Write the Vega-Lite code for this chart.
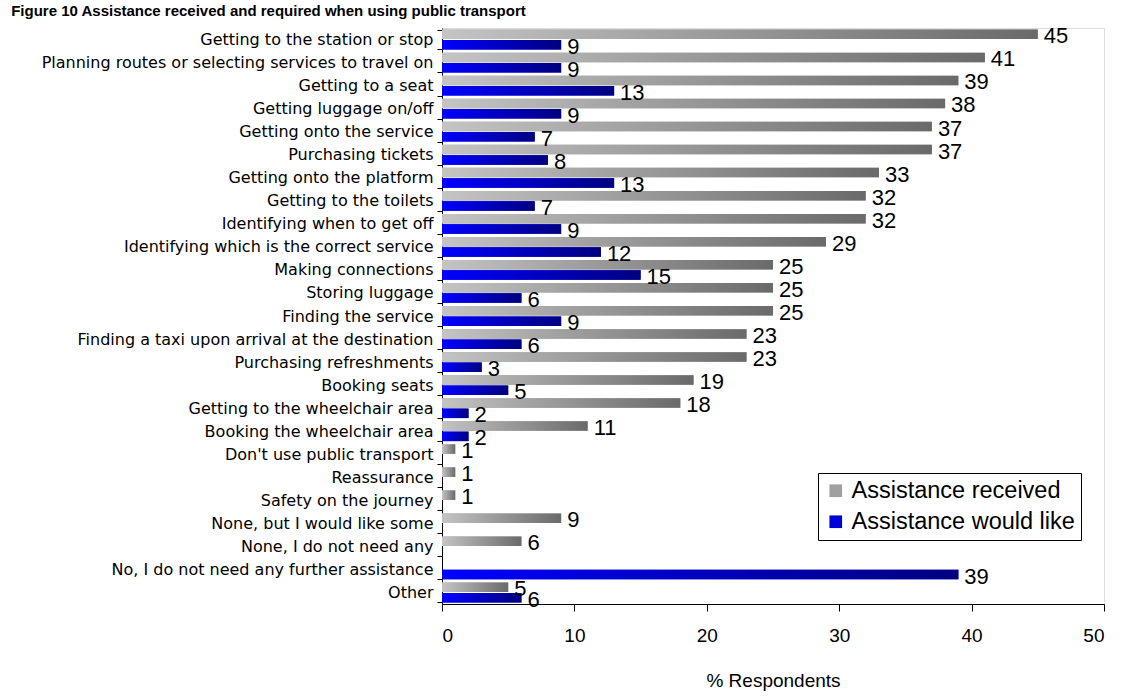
{
  "$schema": "https://vega.github.io/schema/vega-lite/v6.json",
  "width": 662,
  "height": 576,
  "autosize": {"type": "none"},
  "padding": {"left": 442, "top": 28, "right": 35, "bottom": 96},
  "background": "white",
  "title": {
    "text": "Figure 10 Assistance received and required when using public transport",
    "anchor": "start",
    "frame": "bounds",
    "font": "Liberation Sans",
    "fontSize": 15,
    "fontWeight": "bold",
    "color": "black",
    "offset": 1,
    "dx": -30
  },
  "data": {
    "values": [
      {"cat": "Getting to the station or stop", "series": "Assistance received", "value": 45},
      {"cat": "Getting to the station or stop", "series": "Assistance would like", "value": 9},
      {"cat": "Planning routes or selecting services to travel on", "series": "Assistance received", "value": 41},
      {"cat": "Planning routes or selecting services to travel on", "series": "Assistance would like", "value": 9},
      {"cat": "Getting to a seat", "series": "Assistance received", "value": 39},
      {"cat": "Getting to a seat", "series": "Assistance would like", "value": 13},
      {"cat": "Getting luggage on/off", "series": "Assistance received", "value": 38},
      {"cat": "Getting luggage on/off", "series": "Assistance would like", "value": 9},
      {"cat": "Getting onto the service", "series": "Assistance received", "value": 37},
      {"cat": "Getting onto the service", "series": "Assistance would like", "value": 7},
      {"cat": "Purchasing tickets", "series": "Assistance received", "value": 37},
      {"cat": "Purchasing tickets", "series": "Assistance would like", "value": 8},
      {"cat": "Getting onto the platform", "series": "Assistance received", "value": 33},
      {"cat": "Getting onto the platform", "series": "Assistance would like", "value": 13},
      {"cat": "Getting to the toilets", "series": "Assistance received", "value": 32},
      {"cat": "Getting to the toilets", "series": "Assistance would like", "value": 7},
      {"cat": "Identifying when to get off", "series": "Assistance received", "value": 32},
      {"cat": "Identifying when to get off", "series": "Assistance would like", "value": 9},
      {"cat": "Identifying which is the correct service", "series": "Assistance received", "value": 29},
      {"cat": "Identifying which is the correct service", "series": "Assistance would like", "value": 12},
      {"cat": "Making connections", "series": "Assistance received", "value": 25},
      {"cat": "Making connections", "series": "Assistance would like", "value": 15},
      {"cat": "Storing luggage", "series": "Assistance received", "value": 25},
      {"cat": "Storing luggage", "series": "Assistance would like", "value": 6},
      {"cat": "Finding the service", "series": "Assistance received", "value": 25},
      {"cat": "Finding the service", "series": "Assistance would like", "value": 9},
      {"cat": "Finding a taxi upon arrival at the destination", "series": "Assistance received", "value": 23},
      {"cat": "Finding a taxi upon arrival at the destination", "series": "Assistance would like", "value": 6},
      {"cat": "Purchasing refreshments", "series": "Assistance received", "value": 23},
      {"cat": "Purchasing refreshments", "series": "Assistance would like", "value": 3},
      {"cat": "Booking seats", "series": "Assistance received", "value": 19},
      {"cat": "Booking seats", "series": "Assistance would like", "value": 5},
      {"cat": "Getting to the wheelchair area", "series": "Assistance received", "value": 18},
      {"cat": "Getting to the wheelchair area", "series": "Assistance would like", "value": 2},
      {"cat": "Booking the wheelchair area", "series": "Assistance received", "value": 11},
      {"cat": "Booking the wheelchair area", "series": "Assistance would like", "value": 2},
      {"cat": "Don't use public transport", "series": "Assistance received", "value": 1},
      {"cat": "Reassurance", "series": "Assistance received", "value": 1},
      {"cat": "Safety on the journey", "series": "Assistance received", "value": 1},
      {"cat": "None, but I would like some", "series": "Assistance received", "value": 9},
      {"cat": "None, I do not need any", "series": "Assistance received", "value": 6},
      {"cat": "No, I do not need any further assistance", "series": "Assistance would like", "value": 39},
      {"cat": "Other", "series": "Assistance received", "value": 5},
      {"cat": "Other", "series": "Assistance would like", "value": 6}
    ]
  },
  "encoding": {
    "y": {
      "field": "cat",
      "type": "nominal",
      "sort": [
        "Getting to the station or stop",
        "Planning routes or selecting services to travel on",
        "Getting to a seat",
        "Getting luggage on/off",
        "Getting onto the service",
        "Purchasing tickets",
        "Getting onto the platform",
        "Getting to the toilets",
        "Identifying when to get off",
        "Identifying which is the correct service",
        "Making connections",
        "Storing luggage",
        "Finding the service",
        "Finding a taxi upon arrival at the destination",
        "Purchasing refreshments",
        "Booking seats",
        "Getting to the wheelchair area",
        "Booking the wheelchair area",
        "Don't use public transport",
        "Reassurance",
        "Safety on the journey",
        "None, but I would like some",
        "None, I do not need any",
        "No, I do not need any further assistance",
        "Other"
      ],
      "scale": {"paddingInner": 0.14, "paddingOuter": 0.07},
      "axis": {
        "title": null,
        "labelFont": "DejaVu Sans",
        "labelFontSize": 16,
        "labelColor": "black",
        "labelPadding": 4,
        "labelLimit": 600,
        "tickBand": "extent",
        "tickSize": 5,
        "tickColor": "black",
        "domainColor": "black",
        "grid": false
      }
    },
    "yOffset": {
      "field": "series",
      "type": "nominal",
      "sort": ["Assistance received", "Assistance would like"],
      "scale": {"paddingInner": 0.08, "paddingOuter": 0}
    },
    "x": {
      "field": "value",
      "type": "quantitative",
      "scale": {"domain": [0, 50], "nice": false},
      "axis": {
        "title": "% Respondents",
        "titleFont": "Liberation Sans",
        "titleFontSize": 19,
        "titleFontWeight": "normal",
        "titleColor": "black",
        "titlePadding": 26,
        "values": [0, 10, 20, 30, 40, 50],
        "labelFont": "Liberation Sans",
        "labelFontSize": 19,
        "labelColor": "black",
        "labelPadding": 15,
        "tickSize": 7,
        "tickColor": "black",
        "domainColor": "black",
        "grid": false
      }
    }
  },
  "layer": [
    {
      "mark": {"type": "bar"},
      "encoding": {
        "color": {
          "field": "series",
          "type": "nominal",
          "scale": {
            "domain": ["Assistance received", "Assistance would like"],
            "range": ["#a0a0a0", "#0000d8"]
          },
          "legend": {
            "title": null,
            "orient": "none",
            "legendX": 376,
            "legendY": 445,
            "labelFont": "Liberation Sans",
            "labelFontSize": 23.5,
            "labelColor": "black",
            "labelLimit": 400,
            "symbolType": "square",
            "symbolSize": 160,
            "symbolStrokeWidth": 0,
            "symbolOpacity": 1,
            "rowPadding": 6,
            "padding": 6,
            "strokeColor": "black",
            "fillColor": "white",
            "labelOffset": 4
          }
        }
      }
    },
    {
      "transform": [{"filter": "datum.series === 'Assistance received'"}],
      "mark": {"type": "bar", "color": {"gradient": "linear", "x1": 0, "y1": 0, "x2": 1, "y2": 0, "stops": [{"offset": 0, "color": "#c4c4c4"}, {"offset": 1, "color": "#6a6a6a"}]}},
      "encoding": {}
    },
    {
      "transform": [{"filter": "datum.series === 'Assistance would like'"}],
      "mark": {"type": "bar", "color": {"gradient": "linear", "x1": 0, "y1": 0, "x2": 1, "y2": 0, "stops": [{"offset": 0, "color": "#0000ff"}, {"offset": 1, "color": "#000080"}]}},
      "encoding": {}
    },
    {
      "mark": {"type": "text", "align": "left", "baseline": "middle", "dx": 6, "dy": 2, "font": "Liberation Sans", "fontSize": 22, "color": "black"},
      "encoding": {"text": {"field": "value", "type": "quantitative"}}
    }
  ]
}
